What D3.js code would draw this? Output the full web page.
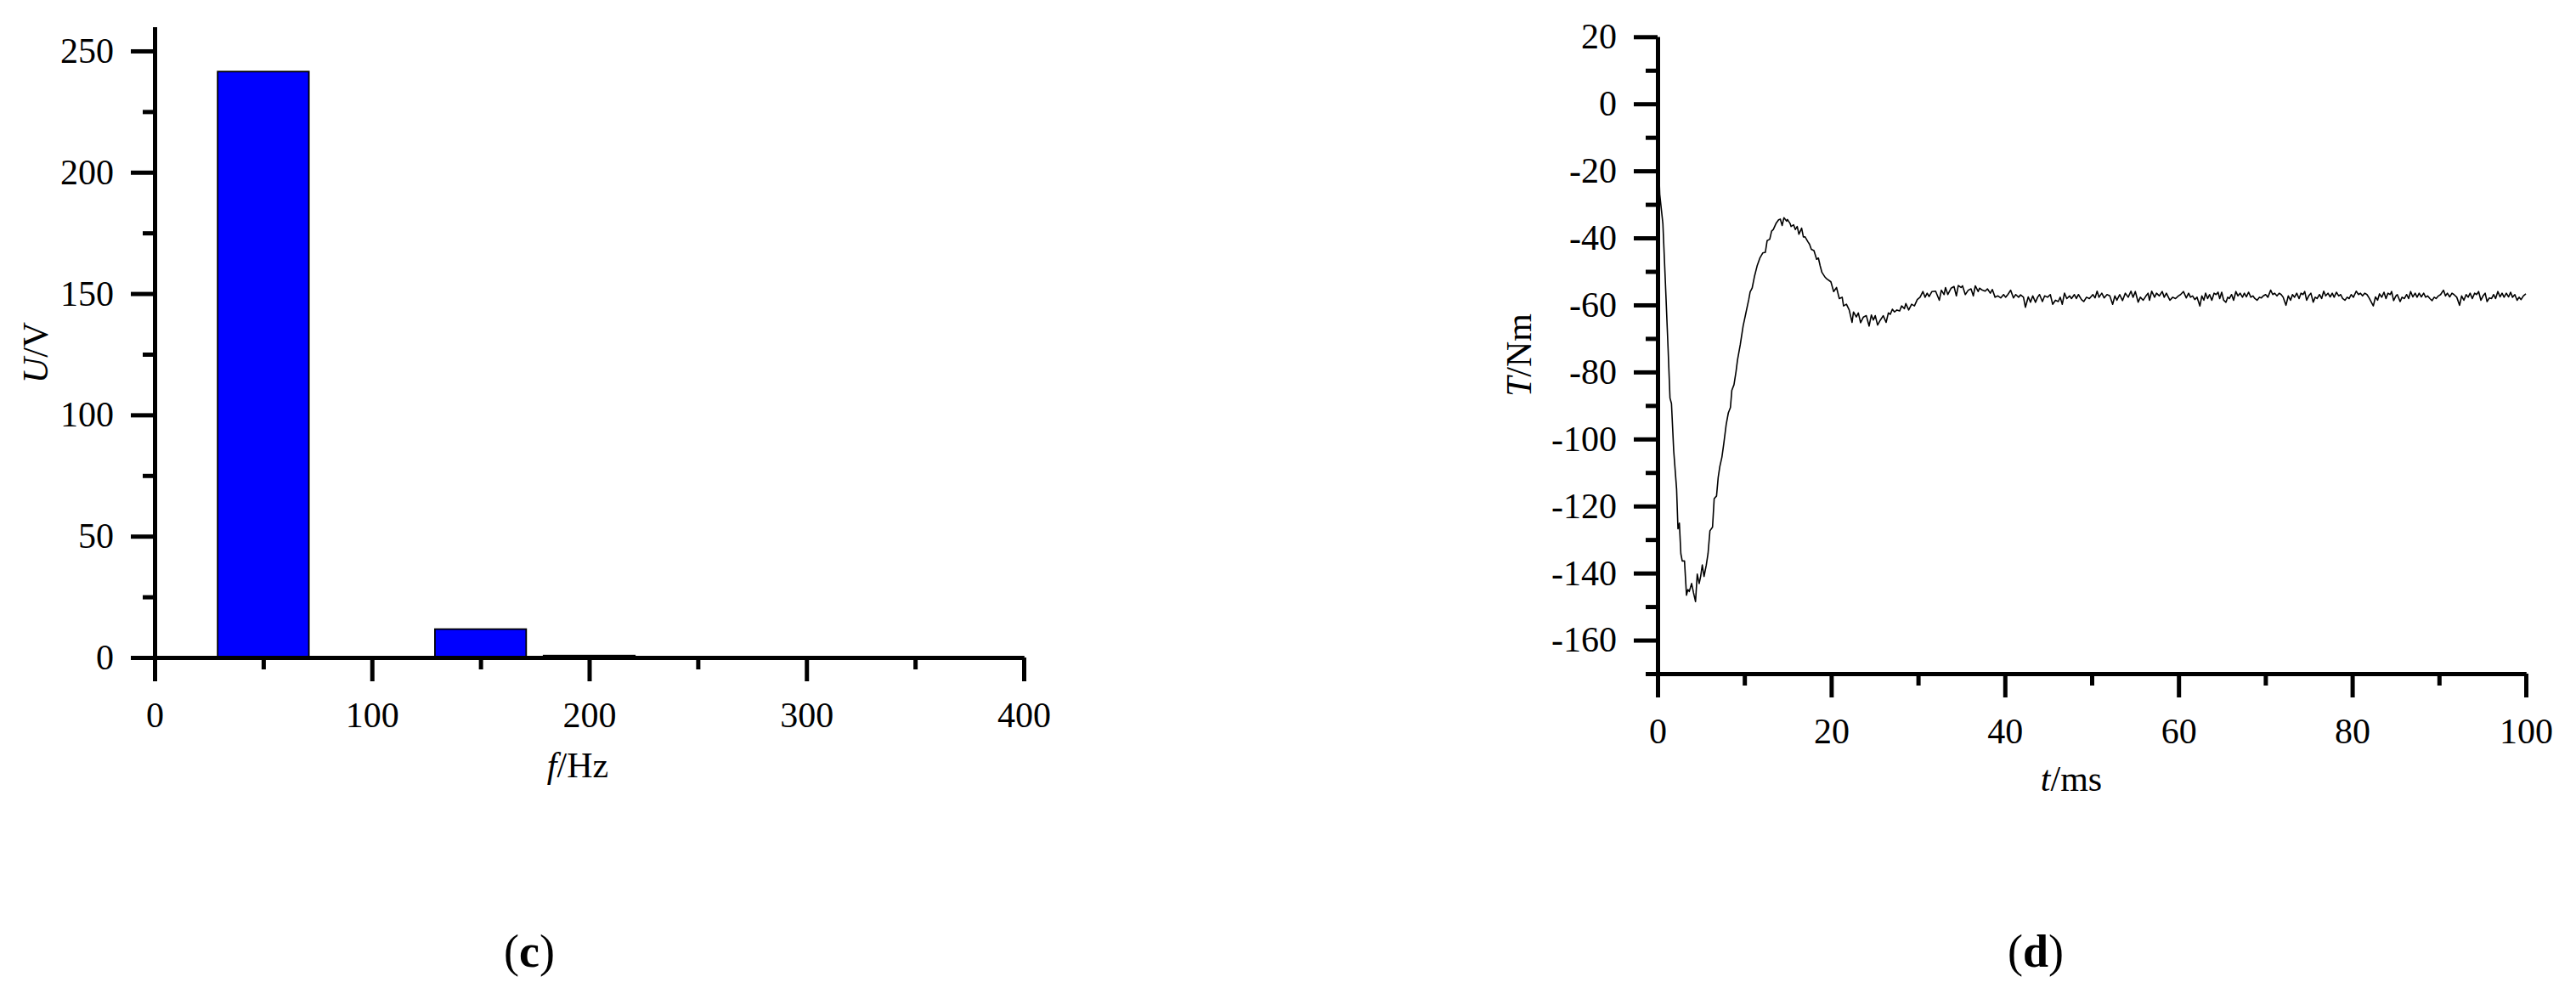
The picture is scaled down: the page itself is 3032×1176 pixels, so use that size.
<!DOCTYPE html>
<html><head><meta charset="utf-8">
<script src="https://cdn.jsdelivr.net/npm/d3@7"></script>
<style>
body{margin:0;background:#fff}
svg{display:block}
text{font-family:"Liberation Serif","Times New Roman",serif;fill:#000}
</style>
</head><body>
<svg id="fig" width="3032" height="1176"></svg>
<script>
// ---------- Panel (c): harmonic spectrum ----------
const harmonicFreqs = [50, 150, 200];
const harmonicVolts = [241.5, 11.7, 0.8];
const fTicks = [0, 100, 200, 300, 400];
const fMinorTicks = [50, 150, 250, 350];
const uTicks = [0, 50, 100, 150, 200, 250];
const uMinorTicks = [25, 75, 125, 175, 225];

// ---------- Panel (d): torque transient [t (ms), T (Nm)] ----------
const torqueTransient = [
[0,-3],[0.1,-16],[0.25,-27],[0.61,-35.7],[0.89,-52.7],[1.21,-73],[1.43,-87.8],[1.60,-89.4],[1.86,-103.6],[2.19,-114.9],
[2.35,-126.8],[2.51,-125.1],[2.68,-134.2],[2.84,-136.4],[3.10,-136.4],[3.33,-146.6],[3.49,-144.9],[3.65,-145.5],[3.92,-143.1],[4.14,-145.9],
[4.37,-148.5],[4.57,-140.3],[4.79,-143.1],[4.96,-141],[5.15,-137.6],[5.35,-141],[5.61,-137.6],[5.81,-134.2],[6.03,-127.4],[6.33,-126.3],
[6.52,-117.8],[6.79,-117],[6.98,-111.5],[7.17,-108.2],[7.41,-105.4],[7.63,-101.3],[7.90,-95.7],[8.15,-92.2],[8.39,-90.6],[8.55,-85.5],
[8.80,-83.8],[9.04,-79.8],[9.20,-76.5],[9.52,-71.9],[9.85,-66.3],[10.18,-62.3],[10.50,-58.4],[10.66,-56.1],[10.89,-55],[11.15,-51.6],
[11.48,-48.2],[11.80,-45.9],[12.11,-44.5],[12.41,-44.3],[12.62,-40.8],[12.92,-40.4],[13.13,-38],[13.33,-37.5],[13.64,-35.7],[13.94,-34.6],
[14.14,-34.4],[14.35,-36.3],[14.55,-34.0],[14.86,-35],[14.96,-34.5],[15.26,-35.7],[15.37,-36.6],[15.67,-36.1],[15.87,-37.5],[16.08,-36.6],
[16.28,-38.9],[16.59,-37.1],[16.79,-39.7],[16.99,-39.7],[17.30,-41.1],[17.50,-41.9],[17.71,-43.4],[18.01,-43.8],[18.32,-46.4],[18.52,-46],
[18.72,-48.3],[18.93,-50.3],[19.23,-51.5]
];
const torqueSettling = [
[19.47,-52.2],[19.96,-53.1],[20.28,-56.0],[20.61,-54.8],[20.93,-58.1],[21.26,-57.7],[21.42,-60.3],[21.75,-59.8],[22.07,-61.5],[22.40,-65.2],
[22.56,-62.1],[22.89,-63.6],[23.12,-62.4],[23.38,-65.3],[23.71,-63.6],[24.04,-63.2],[24.36,-66.3],[24.62,-63.0],[24.85,-64.5],[25.07,-63.2],
[25.34,-66.0],[25.66,-64.5],[25.99,-63.2],[26.32,-65.2],[26.58,-62.4],[26.80,-62.8],[27.04,-61.3],[27.29,-62.1],[27.56,-61.5],[27.88,-61.8],
[28.11,-60.3],[28.43,-61.1],[28.59,-59.6],[28.92,-61.5],[29.26,-59.8],[29.58,-60.3],[29.91,-58.4],[30.23,-57.7],[30.56,-56.0],[30.81,-57.7],
[31.05,-56.5],[31.27,-57.5],[31.60,-56.0],[32.02,-55.9],[32.45,-58.6],[32.68,-55.6],[33.00,-56.9],[33.16,-54.8],[33.43,-56.9],[33.81,-55.0],
[34.14,-54.5],[34.41,-57.3],[34.63,-54.2],[34.95,-54.8],[35.12,-54.3],[35.44,-56.9],[35.78,-55.6],[36.10,-55.2],[36.36,-57.3],[36.59,-54.3],
[36.92,-56.0],[37.08,-55.0],[37.41,-55.6],[37.73,-55.9],[37.99,-55.2],[38.32,-56.5],[38.55,-55.4],[38.87,-57.7],[39.20,-57.3],[39.52,-57.9],
[39.85,-56.9],[40.08,-57.7],[40.34,-56.9],[40.66,-55.6],[40.99,-57.9],[41.25,-56.9],[41.58,-57.7],[41.81,-57.0],[42.14,-57.7],[42.36,-60.7],
[42.69,-57.6],[42.95,-59.2],[43.21,-57.3],[43.53,-59.2],[43.77,-57.7],[43.99,-56.9],[44.32,-59.0],[44.58,-57.3],[44.91,-57.7],[45.23,-56.9],
[45.50,-59.8],[45.82,-58.6],[46.15,-59.0],[46.37,-57.7],[46.61,-59.8],[46.86,-56.5],[47.13,-58.1],[47.45,-57.3],[47.67,-58.1],[48.00,-56.9],
[48.23,-58.1],[48.47,-56.9],[48.82,-58.4],[49.08,-59.0],[49.40,-57.7],[49.73,-58.1],[50.13,-56.9],[50.38,-57.9],[50.62,-55.9],[50.84,-57.7],
[51.16,-56.5],[51.43,-57.9],[51.76,-56.9],[52.08,-57.3],[52.41,-59.8],[52.67,-57.3],[52.90,-58.6],[53.22,-56.9],[53.55,-58.7],[53.87,-56.5],
[54.20,-57.7],[54.52,-55.9],[54.76,-57.7],[55.02,-56.0],[55.35,-59.2],[55.60,-57.7],[55.93,-58.6],[56.25,-57.3],[56.49,-56.5],[56.65,-58.6],
[56.91,-55.9],[57.24,-57.7],[57.46,-56.5],[57.79,-57.3],[58.12,-56.0],[58.35,-57.7],[58.60,-56.5],[59.00,-58.6],[59.33,-57.7],[59.65,-58.1],
[59.98,-57.3],[60.23,-56.9],[60.56,-56.0]
];
const torqueSteady = [
[60.89,-57.9],[61.16,-56.5],[61.38,-57.7],[61.62,-57.3],[61.87,-58.4],[62.13,-57.7],[62.46,-60.3],[62.68,-57.3],[62.92,-58.6],[63.11,-56.5],
[63.35,-58.1],[63.57,-56.9],[63.83,-58.6],[64.09,-56.5],[64.32,-56.9],[64.55,-56.2],[64.74,-58.1],[64.97,-56.2],[65.20,-58.6],[65.46,-59.2],
[65.66,-57.7],[65.85,-58.1],[66.11,-56.9],[66.34,-58.6],[66.60,-56.0],[66.84,-57.3],[67.09,-56.5],[67.36,-57.7],[67.58,-56.5],[67.81,-57.6],
[68.07,-56.2],[68.33,-57.7],[68.56,-57.3],[68.79,-58.1],[69.04,-58.6],[69.31,-57.7],[69.54,-57.9],[69.77,-57.3],[70.03,-56.9],[70.29,-57.7],
[70.61,-55.6],[70.85,-56.9],[71.07,-56.5],[71.33,-57.3],[71.59,-56.5],[71.82,-56.9],[72.05,-57.7],[72.37,-60.1],[72.64,-57.3],[72.90,-58.6],
[73.12,-56.9],[73.36,-57.7],[73.61,-56.5],[73.88,-58.1],[74.10,-56.5],[74.34,-56.9],[74.53,-56.0],[74.75,-58.6],[74.99,-57.3],[75.24,-56.5],
[75.51,-59.2],[75.74,-57.7],[75.96,-58.1],[76.23,-56.9],[76.48,-58.1],[76.72,-55.9],[76.94,-57.3],[77.21,-56.5],[77.46,-57.6],[77.70,-56.5],
[77.92,-57.7],[78.18,-56.2],[78.45,-57.3],[78.67,-56.9],[78.90,-58.1],[79.16,-58.6],[79.42,-57.7],[79.65,-58.1],[79.88,-56.9],[80.14,-57.7],
[80.46,-55.9],[80.73,-56.9],[80.95,-56.5],[81.19,-57.3],[81.44,-56.5],[81.70,-56.9],[81.94,-57.9],[82.43,-60.3],[82.68,-57.6],[82.92,-58.6],
[83.14,-56.7],[83.40,-57.7],[83.66,-56.2],[83.89,-58.1],[84.12,-56.5],[84.38,-56.9],[84.54,-56.0],[84.77,-58.7],[85.03,-57.3],[85.19,-56.9],
[85.52,-59.0],[85.74,-57.7],[86.01,-58.1],[86.27,-56.9],[86.50,-58.1],[86.73,-56.0],[86.98,-57.6],[87.25,-56.5],[87.47,-57.7],[87.71,-56.5],
[87.96,-57.6],[88.23,-56.5],[88.46,-57.7],[88.68,-57.3],[88.95,-58.1],[89.20,-58.7],[89.44,-57.7],[89.66,-58.1],[89.93,-57.3],[90.18,-56.9],
[90.51,-55.6],[90.74,-57.3],[90.96,-56.5],[91.23,-57.6],[91.49,-56.5],[91.72,-56.9],[92.04,-57.7],[92.37,-60.1],[92.60,-57.3],[92.86,-58.6],
[93.12,-56.9],[93.35,-57.7],[93.58,-56.5],[93.83,-58.1],[94.10,-56.5],[94.32,-56.9],[94.56,-56.0],[94.82,-58.6],[95.07,-57.3],[95.31,-56.5],
[95.53,-59.0],[95.80,-57.9],[96.05,-58.1],[96.29,-56.9],[96.51,-58.1],[96.77,-56.0],[97.03,-57.6],[97.26,-56.5],[97.49,-57.7],[97.75,-56.5],
[98.01,-57.6],[98.24,-56.2],[98.46,-57.7],[98.73,-56.9],[98.99,-58.6],[99.22,-57.7],[99.45,-58.4],[99.71,-57.3],[100.0,-56.7]
];
const tTicks = [0, 20, 40, 60, 80, 100];
const tMinorTicks = [10, 30, 50, 70, 90];
const TTicks = [-160, -140, -120, -100, -80, -60, -40, -20, 0, 20];
const TMinorTicks = [-170, -150, -130, -110, -90, -70, -50, -30, -10, 10];

// ---------- drawing ----------
const svg = d3.select("#fig");
const AXW = 5, MAJ = 28, MIN = 14, FS = 42;
const fmt = d => String(d);

function styleAxis(g){
  g.attr("font-family", null).attr("font-size", null);
  g.selectAll("path.domain").attr("stroke", "#000").attr("stroke-width", AXW);
  g.selectAll(".tick line").attr("stroke", "#000").attr("stroke-width", AXW);
  g.selectAll(".tick text").attr("font-size", FS).attr("fill", "#000");
}

// Panel (c)
const xC = d3.scaleLinear().domain([0, 400]).range([182, 1205]);
const yC = d3.scaleLinear().domain([0, 260]).range([774, 31.4]);
const barWidthHz = 42;

svg.append("g").selectAll("rect").data(harmonicFreqs).join("rect")
  .attr("x", (d) => xC(d - barWidthHz / 2))
  .attr("width", xC(barWidthHz) - xC(0))
  .attr("y", (d, i) => yC(harmonicVolts[i]))
  .attr("height", (d, i) => yC(0) - yC(harmonicVolts[i]))
  .attr("fill", "#0000ff").attr("stroke", "#000").attr("stroke-width", 1.8);

svg.append("g").attr("transform", `translate(0,${yC(0)})`)
  .call(d3.axisBottom(xC).tickValues(fMinorTicks).tickSize(MIN).tickSizeOuter(0).tickFormat(""))
  .call(styleAxis);
svg.append("g").attr("transform", `translate(0,${yC(0)})`)
  .call(d3.axisBottom(xC).tickValues(fTicks).tickSize(MAJ).tickSizeOuter(0).tickPadding(24).tickFormat(fmt))
  .call(styleAxis);
svg.append("g").attr("transform", `translate(${xC(0)},0)`)
  .call(d3.axisLeft(yC).tickValues(uMinorTicks).tickSize(MIN).tickSizeOuter(0).tickFormat(""))
  .call(styleAxis);
svg.append("g").attr("transform", `translate(${xC(0)},0)`)
  .call(d3.axisLeft(yC).tickValues(uTicks).tickSize(MAJ).tickSizeOuter(0).tickPadding(20).tickFormat(fmt))
  .call(styleAxis);

const tU = svg.append("text").attr("transform", "translate(56,415) rotate(-90)")
  .attr("text-anchor", "middle").attr("font-size", FS);
tU.append("tspan").attr("font-style", "italic").text("U");
tU.append("tspan").text("/V");

const tF = svg.append("text").attr("x", 680).attr("y", 915)
  .attr("text-anchor", "middle").attr("font-size", FS);
tF.append("tspan").attr("font-style", "italic").text("f");
tF.append("tspan").text("/Hz");

// Panel (d)
const xD = d3.scaleLinear().domain([0, 100]).range([1951, 2973]);
const yD = d3.scaleLinear().domain([-170, 20]).range([793, 43.3]);
const torqueAll = torqueTransient.concat(torqueSettling, torqueSteady);

svg.append("path").datum(torqueAll)
  .attr("d", d3.line().x(d => xD(d[0])).y(d => yD(d[1])))
  .attr("fill", "none").attr("stroke", "#000").attr("stroke-width", 1.6)
  .attr("stroke-linejoin", "round");

svg.append("g").attr("transform", `translate(0,${yD(-170)})`)
  .call(d3.axisBottom(xD).tickValues(tMinorTicks).tickSize(MIN).tickSizeOuter(0).tickFormat(""))
  .call(styleAxis);
svg.append("g").attr("transform", `translate(0,${yD(-170)})`)
  .call(d3.axisBottom(xD).tickValues(tTicks).tickSize(MAJ).tickSizeOuter(0).tickPadding(24).tickFormat(fmt))
  .call(styleAxis);
svg.append("g").attr("transform", `translate(${xD(0)},0)`)
  .call(d3.axisLeft(yD).tickValues(TMinorTicks).tickSize(MIN).tickSizeOuter(0).tickFormat(""))
  .call(styleAxis);
svg.append("g").attr("transform", `translate(${xD(0)},0)`)
  .call(d3.axisLeft(yD).tickValues(TTicks).tickSize(MAJ).tickSizeOuter(0).tickPadding(20).tickFormat(fmt))
  .call(styleAxis);

const tT = svg.append("text").attr("transform", "translate(1802,418) rotate(-90)")
  .attr("text-anchor", "middle").attr("font-size", FS);
tT.append("tspan").attr("font-style", "italic").text("T");
tT.append("tspan").text("/Nm");

const tM = svg.append("text").attr("x", 2438).attr("y", 931)
  .attr("text-anchor", "middle").attr("font-size", FS);
tM.append("tspan").attr("font-style", "italic").text("t");
tM.append("tspan").text("/ms");

// Panel captions
function caption(x, letter){
  const t = svg.append("text").attr("x", x).attr("y", 1138)
    .attr("text-anchor", "middle").attr("font-size", 54);
  t.append("tspan").text("(");
  t.append("tspan").attr("font-weight", "bold").text(letter);
  t.append("tspan").text(")");
}
caption(623, "c");
caption(2396, "d");
</script>
</body></html>
